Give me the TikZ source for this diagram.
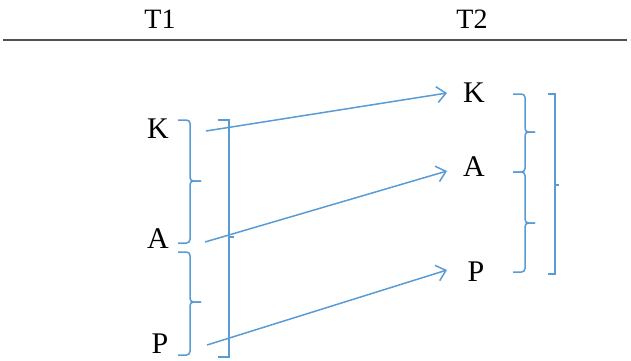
\documentclass[tikz,border=0pt]{standalone}
\usepackage{fontspec}
\setmainfont{Liberation Serif}
\usetikzlibrary{arrows.meta}
\definecolor{lnblue}{RGB}{91,155,213}
\definecolor{rulegray}{RGB}{80,80,80}
\begin{document}
\begin{tikzpicture}[x=1pt,y=-1pt,
  lbl/.style={inner sep=0pt,anchor=base,font=\fontsize{30}{36}\selectfont},
  hdr/.style={inner sep=0pt,anchor=base,font=\fontsize{28}{34}\selectfont},
  brc/.style={draw=lnblue,line width=1.5pt,rounded corners=3.5pt},
  arr/.style={draw=lnblue,line width=1.5pt,-{Straight Barb[length=9pt,width=16pt,line width=1.5pt]}}]
\useasboundingbox (0,0) rectangle (631,360);
% header
\node[hdr] (t1) at (160,28) {T1};
\node[hdr] (t2) at (472,28) {T2};
\coordinate (rl) at (3,40);
\coordinate (rr) at (627,40);
\draw[rulegray,line width=2.6pt] (rl) -- (rr);
% left labels
\node[lbl] (k1) at (158,138) {K};
\node[lbl] (a1) at (158,248) {A};
\node[lbl] (p1) at (160,353) {P};
% right labels
\node[lbl] (k2) at (474,102) {K};
\node[lbl] (a2) at (474,176) {A};
\node[lbl] (p2) at (476,281) {P};
% left braces
\draw[brc] (178,120) -- (190,120) -- (190,181) -- (201,181);
\draw[brc] (201,181) -- (190,181) -- (190,243) -- (178,243);
\draw[brc] (178,252) -- (190,252) -- (190,302) -- (201,302);
\draw[brc] (201,302) -- (190,302) -- (190,355) -- (178,355);
\draw[lnblue,line width=1.5pt] (218,120) -- (229,120) -- (229,357) -- (218,357);
\draw[lnblue,line width=1.5pt] (229,237) -- (234,237);
% right braces
\draw[brc] (513,94) -- (525,94) -- (525,132) -- (535,132);
\draw[brc] (535,132) -- (525,132) -- (525,172) -- (513,172);
\draw[brc] (513,172) -- (525,172) -- (525,223) -- (535,223);
\draw[brc] (535,223) -- (525,223) -- (525,272) -- (513,272);
\draw[lnblue,line width=1.5pt] (548,94) -- (555,94) -- (555,274) -- (548,274);
\draw[lnblue,line width=1.5pt] (555,185) -- (559,185);
% arrows
\coordinate (k1s) at (206,131);
\coordinate (a1s) at (205,242);
\coordinate (p1s) at (207,345);
\coordinate (k2e) at (447,93);
\coordinate (a2e) at (447,171);
\coordinate (p2e) at (447,270);
\draw[arr] (k1s) -- (k2e);
\draw[arr] (a1s) -- (a2e);
\draw[arr] (p1s) -- (p2e);
\end{tikzpicture}
\end{document}
